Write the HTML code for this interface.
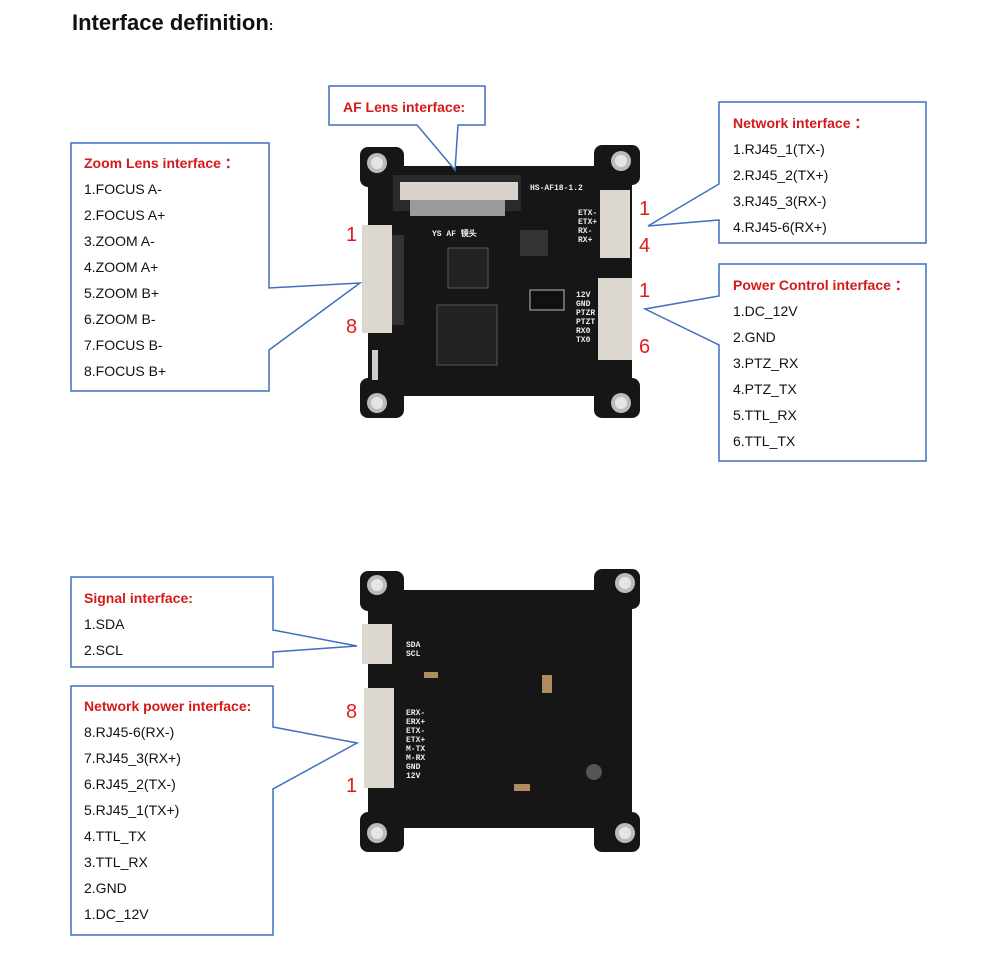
<!DOCTYPE html>
<html><head><meta charset="utf-8"><style>
html,body{margin:0;padding:0;background:#fff;}
svg{display:block}
.t{font-family:"Liberation Sans",sans-serif;font-size:14px;fill:#111}
.h{font-family:"Liberation Sans",sans-serif;font-size:14px;font-weight:bold;fill:#d41a1a}
.n{font-family:"Liberation Sans",sans-serif;font-size:20px;fill:#e31b1b}
.s{font-family:"Liberation Mono",monospace;font-size:8px;font-weight:bold;fill:#eee}
</style></head><body>
<svg width="1000" height="954" viewBox="0 0 1000 954" xmlns="http://www.w3.org/2000/svg">
<text x="72" y="30" font-family="Liberation Sans,sans-serif" font-size="22" font-weight="bold" fill="#111">Interface definition<tspan font-size="14">:</tspan></text>

<!-- Top PCB -->
<g fill="#161616">
<rect x="368" y="166" width="264" height="230"/>
<rect x="360" y="147" width="44" height="40" rx="8"/>
<rect x="594" y="145" width="46" height="40" rx="8"/>
<rect x="360" y="378" width="44" height="40" rx="8"/>
<rect x="594" y="378" width="46" height="40" rx="8"/>
</g>
<circle cx="377" cy="163" r="10" fill="#bbb"/><circle cx="377" cy="163" r="6" fill="#e5e5e5"/>
<circle cx="621" cy="161" r="10" fill="#bbb"/><circle cx="621" cy="161" r="6" fill="#e5e5e5"/>
<circle cx="377" cy="403" r="10" fill="#bbb"/><circle cx="377" cy="403" r="6" fill="#e5e5e5"/>
<circle cx="621" cy="403" r="10" fill="#bbb"/><circle cx="621" cy="403" r="6" fill="#e5e5e5"/>
<rect x="393" y="175" width="128" height="36" fill="#2a2a2a"/>
<rect x="400" y="182" width="118" height="18" fill="#d8d4cc"/>
<rect x="410" y="200" width="95" height="16" fill="#9a9a9a"/>
<rect x="362" y="225" width="30" height="108" fill="#ddd8cf"/>
<rect x="392" y="235" width="12" height="90" fill="#333"/>
<rect x="448" y="248" width="40" height="40" fill="#222" stroke="#555"/>
<rect x="437" y="305" width="60" height="60" fill="#222" stroke="#555"/>
<rect x="520" y="230" width="28" height="26" fill="#333"/>
<rect x="530" y="290" width="34" height="20" fill="#111" stroke="#bbb"/>
<rect x="372" y="350" width="6" height="30" fill="#ccc"/>
<rect x="600" y="190" width="30" height="68" fill="#ddd8cf"/>
<rect x="598" y="278" width="34" height="82" fill="#ddd8cf"/>
<text class="s" x="530" y="190">HS-AF18-1.2</text>
<text class="s" x="578" y="215">ETX-</text><text class="s" x="578" y="224">ETX+</text><text class="s" x="578" y="233">RX-</text><text class="s" x="578" y="242">RX+</text>
<text class="s" x="576" y="297">12V</text><text class="s" x="576" y="306">GND</text><text class="s" x="576" y="315">PTZR</text><text class="s" x="576" y="324">PTZT</text><text class="s" x="576" y="333">RX0</text><text class="s" x="576" y="342">TX0</text>
<text class="s" x="432" y="236">YS AF 镜头</text>
<text class="n" x="346" y="241">1</text><text class="n" x="346" y="333">8</text>
<text class="n" x="639" y="215">1</text><text class="n" x="639" y="252">4</text>
<text class="n" x="639" y="297">1</text><text class="n" x="639" y="353">6</text>

<!-- Bottom PCB -->
<g fill="#161616">
<rect x="368" y="590" width="264" height="238"/>
<rect x="360" y="571" width="44" height="40" rx="8"/>
<rect x="594" y="569" width="46" height="40" rx="8"/>
<rect x="360" y="812" width="44" height="40" rx="8"/>
<rect x="594" y="812" width="46" height="40" rx="8"/>
</g>
<circle cx="377" cy="585" r="10" fill="#bbb"/><circle cx="377" cy="585" r="6" fill="#e5e5e5"/>
<circle cx="625" cy="583" r="10" fill="#bbb"/><circle cx="625" cy="583" r="6" fill="#e5e5e5"/>
<circle cx="377" cy="833" r="10" fill="#bbb"/><circle cx="377" cy="833" r="6" fill="#e5e5e5"/>
<circle cx="625" cy="833" r="10" fill="#bbb"/><circle cx="625" cy="833" r="6" fill="#e5e5e5"/>
<rect x="362" y="624" width="30" height="40" fill="#ddd8cf"/>
<rect x="364" y="688" width="30" height="100" fill="#ddd8cf"/>
<text class="s" x="406" y="647">SDA</text><text class="s" x="406" y="656">SCL</text>
<text class="s" x="406" y="715">ERX-</text><text class="s" x="406" y="724">ERX+</text><text class="s" x="406" y="733">ETX-</text><text class="s" x="406" y="742">ETX+</text><text class="s" x="406" y="751">M-TX</text><text class="s" x="406" y="760">M-RX</text><text class="s" x="406" y="769">GND</text><text class="s" x="406" y="778">12V</text>
<rect x="542" y="675" width="10" height="18" fill="#b08a60"/>
<rect x="424" y="672" width="14" height="6" fill="#b08a60"/>
<rect x="514" y="784" width="16" height="7" fill="#b08a60"/>
<circle cx="594" cy="772" r="8" fill="#555"/>
<text class="n" x="346" y="718">8</text><text class="n" x="346" y="792">1</text>

<!-- Callouts -->
<g fill="#fff" stroke="#3f6fbf" stroke-width="1.5">
<path d="M71,143 H269 V288 L360,283 L269,350 V391 H71 Z"/>
<path d="M329,86 H485 V125 H458 L455,170 L417,125 H329 Z"/>
<path d="M719,102 H926 V243 H719 V220 L648,226 L719,184 Z"/>
<path d="M719,264 H926 V461 H719 V345 L645,309 L719,296 Z"/>
<path d="M71,577 H273 V630 L357,646 L273,652 V667 H71 Z"/>
<path d="M71,686 H273 V727 L357,743 L273,789 V935 H71 Z"/>
</g>

<text class="h" x="343" y="112">AF Lens interface:</text>

<text class="h" x="84" y="168">Zoom Lens interface ：</text>
<text class="t" x="84" y="194">1.FOCUS A-</text>
<text class="t" x="84" y="220">2.FOCUS A+</text>
<text class="t" x="84" y="246">3.ZOOM A-</text>
<text class="t" x="84" y="272">4.ZOOM A+</text>
<text class="t" x="84" y="298">5.ZOOM B+</text>
<text class="t" x="84" y="324">6.ZOOM B-</text>
<text class="t" x="84" y="350">7.FOCUS B-</text>
<text class="t" x="84" y="376">8.FOCUS B+</text>

<text class="h" x="733" y="128" fill="#b81414">Network  interface ：</text>
<text class="t" x="733" y="154">1.RJ45_1(TX-)</text>
<text class="t" x="733" y="180">2.RJ45_2(TX+)</text>
<text class="t" x="733" y="206">3.RJ45_3(RX-)</text>
<text class="t" x="733" y="232">4.RJ45-6(RX+)</text>

<text class="h" x="733" y="290">Power Control interface ：</text>
<text class="t" x="733" y="316">1.DC_12V</text>
<text class="t" x="733" y="342">2.GND</text>
<text class="t" x="733" y="368">3.PTZ_RX</text>
<text class="t" x="733" y="394">4.PTZ_TX</text>
<text class="t" x="733" y="420">5.TTL_RX</text>
<text class="t" x="733" y="446">6.TTL_TX</text>

<text class="h" x="84" y="603">Signal interface:</text>
<text class="t" x="84" y="629">1.SDA</text>
<text class="t" x="84" y="655">2.SCL</text>

<text class="h" x="84" y="711">Network power interface:</text>
<text class="t" x="84" y="737">8.RJ45-6(RX-)</text>
<text class="t" x="84" y="763">7.RJ45_3(RX+)</text>
<text class="t" x="84" y="789">6.RJ45_2(TX-)</text>
<text class="t" x="84" y="815">5.RJ45_1(TX+)</text>
<text class="t" x="84" y="841">4.TTL_TX</text>
<text class="t" x="84" y="867">3.TTL_RX</text>
<text class="t" x="84" y="893">2.GND</text>
<text class="t" x="84" y="919">1.DC_12V</text>
</svg>
</body></html>
